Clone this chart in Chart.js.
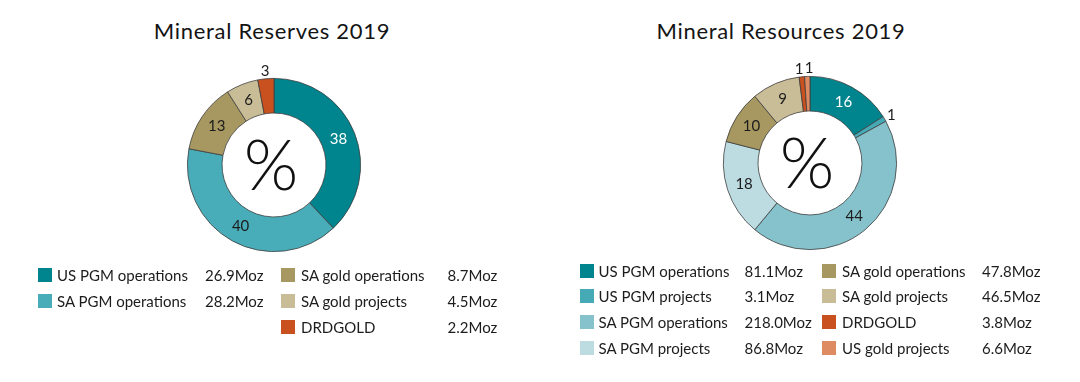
<!DOCTYPE html>
<html><head><meta charset="utf-8">
<script src="https://cdn.jsdelivr.net/npm/chart.js@4/dist/chart.umd.min.js"></script>
<style>
html,body{margin:0;padding:0;background:#fff;width:1080px;height:382px;overflow:hidden;font-family:Lato,"Open Sans",sans-serif;color:#1c1c1c}
.title{position:absolute;font-size:22px;line-height:22px;letter-spacing:0.7px;white-space:nowrap;transform:translateX(-50%);color:#141414}
.box{position:absolute;width:240px;height:240px}
.leg{position:absolute;font-size:15px;line-height:15px;white-space:nowrap}
.sw{position:absolute;width:14px;height:14px}
</style></head><body>
<div class="title" id="t1" style="left:272px;top:20px"></div>
<div class="title" id="t2" style="left:781px;top:20px"></div>
<div class="box" style="left:154px;top:45px"><canvas id="c1"></canvas></div>
<div class="box" style="left:690px;top:43px"><canvas id="c2"></canvas></div>
<div id="legends"></div>
<script>
// ---- data ----
const reservesTitle = 'Mineral Reserves 2019';
const reservesCategories = ['US PGM operations','SA PGM operations','SA gold operations','SA gold projects','DRDGOLD'];
const reservesPercent = [38, 40, 13, 6, 3];
const reservesMoz = [26.9, 28.2, 8.7, 4.5, 2.2];
const reservesColors = ['#00858f','#49adb9','#a69860','#c9bd97','#c9511f'];

const resourcesTitle = 'Mineral Resources 2019';
const resourcesCategories = ['US PGM operations','US PGM projects','SA PGM operations','SA PGM projects','SA gold operations','SA gold projects','DRDGOLD','US gold projects'];
const resourcesPercent = [16, 1, 44, 18, 10, 9, 1, 1];
const resourcesMoz = [81.1, 3.1, 218.0, 86.8, 47.8, 46.5, 3.8, 6.6];
const resourcesColors = ['#00858f','#45a9b6','#86c2cc','#bcdce1','#a69860','#c9bd97','#c9511f','#de8a63'];

// ---- plugins ----
const sliceLabels = {
  id:'sliceLabels',
  afterDatasetsDraw(chart){
    const ctx = chart.ctx;
    const meta = chart.getDatasetMeta(0);
    const data = chart.data.datasets[0].data;
    ctx.save();
    ctx.font = '15px Lato, sans-serif';
    ctx.textAlign = 'center';
    ctx.textBaseline = 'middle';
    const pos = meta.data.map((arc, i) => {
      const p = arc.getProps(['x','y','startAngle','endAngle','innerRadius','outerRadius'], true);
      const a = (p.startAngle + p.endAngle) / 2;
      const outside = data[i] < 5;
      const r = outside ? p.outerRadius + 8 : (p.innerRadius + p.outerRadius) / 2;
      return {x:p.x + r * Math.cos(a), y:p.y + r * Math.sin(a), outside};
    });
    // spread neighbouring small outside labels
    for (let i = 1; i < pos.length; i++) {
      const a = pos[i-1], b = pos[i];
      if (a.outside && b.outside && Math.abs(a.x - b.x) < 10 && Math.abs(a.y - b.y) < 10) {
        const m = (a.x + b.x) / 2;
        const dir = b.x >= a.x ? 1 : -1;
        a.x = m - 5 * dir; b.x = m + 5 * dir;
      }
    }
    pos.forEach((q, i) => {
      ctx.fillStyle = (i === 0) ? '#ffffff' : '#1c1c1c';
      ctx.fillText(String(data[i]), q.x, q.y);
    });
    // centre symbol
    const a0 = meta.data[0];
    ctx.fillStyle = '#111';
    ctx.font = '300 70px Lato, sans-serif';
    ctx.fillText('%', a0.x - 3, a0.y + 2);
    ctx.restore();
  }
};

function makeChart(id, cats, vals, colors){
  new Chart(document.getElementById(id), {
    type:'doughnut',
    data:{labels:cats, datasets:[{data:vals, backgroundColor:colors, borderColor:'#3d3d3d', borderWidth:0.8, hoverOffset:0, offset:0}]},
    options:{
      responsive:true, maintainAspectRatio:false, animation:false,
      cutout:'60%', rotation:0,
      layout:{padding:33},
      events:[],
      plugins:{legend:{display:false}, tooltip:{enabled:false}}
    },
    plugins:[sliceLabels]
  });
}
makeChart('c1', reservesCategories, reservesPercent, reservesColors);
makeChart('c2', resourcesCategories, resourcesPercent, resourcesColors);

document.getElementById('t1').textContent = reservesTitle;
document.getElementById('t2').textContent = resourcesTitle;

// ---- legends ----
function legend(cats, moz, colors, split, cols, top0, step){
  const root = document.getElementById('legends');
  cats.forEach((c, i) => {
    const col = i < split ? 0 : 1;
    const row = i < split ? i : i - split;
    const y = top0 + row * step;
    const L = cols[col];
    const sw = document.createElement('div');
    sw.className = 'sw';
    sw.style.left = L.sw + 'px'; sw.style.top = y + 'px'; sw.style.background = colors[i];
    const t = document.createElement('div');
    t.className = 'leg'; t.style.left = L.text + 'px'; t.style.top = y + 'px';
    t.textContent = c;
    const v = document.createElement('div');
    v.className = 'leg'; v.style.left = L.val + 'px'; v.style.top = y + 'px';
    v.textContent = moz[i].toFixed(1) + 'Moz';
    root.appendChild(sw); root.appendChild(t); root.appendChild(v);
  });
}
legend(reservesCategories, reservesMoz, reservesColors, 2,
  [{sw:37.5,text:57,val:205},{sw:281,text:301,val:447.5}], 267.5, 26);
legend(resourcesCategories, resourcesMoz, resourcesColors, 4,
  [{sw:579.5,text:598.5,val:744.5},{sw:822,text:842,val:982}], 263.5, 25.7);
</script>
</body></html>
